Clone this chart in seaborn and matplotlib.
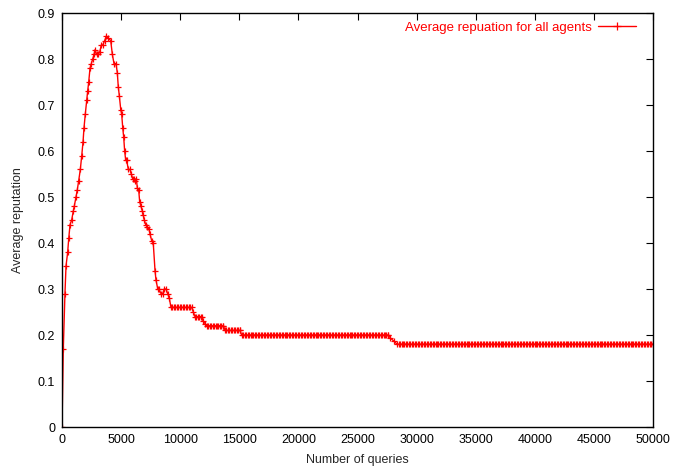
import matplotlib
matplotlib.use("Agg")
import matplotlib.pyplot as plt
import seaborn as sns
import pandas as pd

# Rising / falling part (read point by point)
x_peak = [0, 110, 250, 340, 480, 570, 680, 820, 960, 1040, 1180, 1290, 1410, 1550,
          1670, 1780, 1860, 1970, 2090, 2170, 2260, 2370, 2480, 2600, 2710, 2790,
          2940, 3050, 3190, 3320, 3440, 3610, 3750, 3920, 4120, 4260, 4400, 4570,
          4680, 4760, 4850, 4970, 5050, 5140, 5220, 5300, 5390, 5470, 5610, 5750,
          5860, 5980, 6090, 6180, 6290, 6370, 6490, 6570, 6680, 6790, 6880, 6960,
          7080, 7220, 7360, 7440, 7590, 7720, 7870, 7950, 8100, 8180, 8380, 8520,
          8650, 8800, 8940, 9080]
y_peak = [0.00, 0.17, 0.29, 0.35, 0.38, 0.41, 0.44, 0.45, 0.47, 0.48, 0.50, 0.515, 0.535,
          0.56, 0.59, 0.62, 0.65, 0.68, 0.71, 0.73, 0.75, 0.78, 0.79, 0.80, 0.81, 0.82,
          0.81, 0.81, 0.815, 0.83, 0.83, 0.84, 0.85, 0.845, 0.84, 0.81, 0.79, 0.79,
          0.77, 0.74, 0.72, 0.69, 0.68, 0.65, 0.63, 0.60, 0.58, 0.58, 0.56, 0.56,
          0.55, 0.54, 0.54, 0.535, 0.54, 0.52, 0.515, 0.49, 0.48, 0.47, 0.46, 0.45,
          0.44, 0.435, 0.43, 0.42, 0.405, 0.40, 0.34, 0.32, 0.30, 0.30, 0.29, 0.29,
          0.30, 0.30, 0.29, 0.28]

# Later part: plateaus read as (level, first query, last query), sampled every 125 queries
plateau_levels = [0.26, 0.25, 0.24, 0.23, 0.225, 0.22, 0.21, 0.20, 0.193, 0.187, 0.18]
plateau_starts = [9220, 11110, 11250, 11950, 12100, 12240, 13790, 15200, 27790, 28070, 28350]
plateau_ends = [10970, 11110, 11820, 11950, 12100, 13650, 15060, 27600, 27790, 28070, 50000]
sample_step = 125

x_ticks = [0, 5000, 10000, 15000, 20000, 25000, 30000, 35000, 40000, 45000, 50000]
y_ticks = [0, 0.1, 0.2, 0.3, 0.4, 0.5, 0.6, 0.7, 0.8, 0.9]
y_tick_labels = ["0", "0.1", "0.2", "0.3", "0.4", "0.5", "0.6", "0.7", "0.8", "0.9"]

series_label = "Average repuation for all agents"

xs = list(x_peak)
ys = list(y_peak)
for lvl, s, e in zip(plateau_levels, plateau_starts, plateau_ends):
    q = s
    while q < e:
        xs.append(q)
        ys.append(lvl)
        q += sample_step
    xs.append(e)
    ys.append(lvl)

df = pd.DataFrame({"queries": xs, "rep": ys})

sns.set_style("white")
plt.rcParams["font.family"] = ["Liberation Sans", "DejaVu Sans"]

fig = plt.figure(figsize=(6.81, 4.68), dpi=100)
ax = fig.add_axes([62 / 681, 41 / 468, 591 / 681, 414 / 468])

sns.lineplot(data=df, x="queries", y="rep", ax=ax, color="#ff0000", linewidth=1.0,
             marker="+", markersize=4.5, markeredgewidth=0.9, markeredgecolor="#ff0000",
             label=series_label, sort=False)

ax.set_xlim(0, 50000)
ax.set_ylim(0, 0.9)
ax.set_xticks(x_ticks)
ax.set_xticklabels([str(t) for t in x_ticks])
ax.set_yticks(y_ticks)
ax.set_yticklabels(y_tick_labels)
ax.tick_params(direction="in", length=5, width=0.8, top=True, right=True,
               labelsize=9, colors="black", pad=5)
for s in ax.spines.values():
    s.set_color("black")
    s.set_linewidth(1.0)

ax.set_xlabel("Number of queries", fontsize=9, labelpad=6)
ax.set_ylabel("Average reputation", fontsize=9, labelpad=10)

leg = ax.legend(loc="upper right", frameon=False, markerfirst=False, fontsize=9.5,
                handlelength=2.9, handletextpad=0.45, borderaxespad=0.0, borderpad=0.0,
                bbox_to_anchor=((636 - 62) / 591, 0.98))
for t in leg.get_texts():
    t.set_color("#ff0000")
for h in leg.legend_handles:
    h.set_markersize(6)

fig.savefig("out.png", dpi=100)
